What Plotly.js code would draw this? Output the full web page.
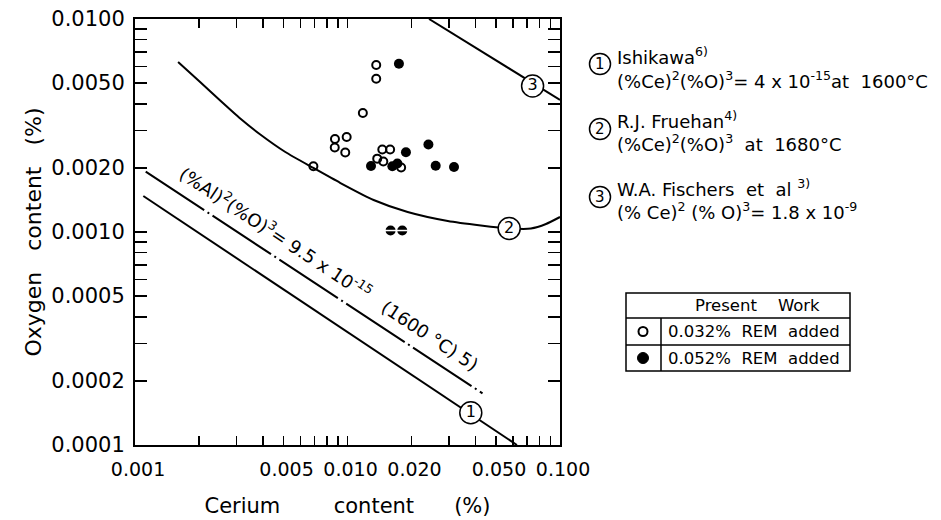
<!DOCTYPE html>
<html>
<head>
<meta charset="utf-8">
<script src="https://cdn.plot.ly/plotly-3.0.1.min.js"></script>
<style>
  html, body { margin: 0; padding: 0; background: #fff; }
  #chart { width: 941px; height: 520px; }
</style>
</head>
<body>
<div id="chart"></div>
<script>
// ---------- data ----------
// Present work, 0.032% REM added (open circles)
const ceOpen = [0.01365, 0.01365, 0.01181, 0.00873, 0.00991, 0.00871, 0.00976, 0.01458, 0.01587, 0.0138, 0.01474, 0.00691, 0.01788];
const oOpen  = [0.00608, 0.005244, 0.003619, 0.002733, 0.002793, 0.002493, 0.00236, 0.00244, 0.00244, 0.00221, 0.002143, 0.002037, 0.00201];
// Present work, 0.052% REM added (filled circles)
const ceFilled = [0.01746, 0.02403, 0.01884, 0.0129, 0.01626, 0.01717, 0.0260, 0.03171];
const oFilled  = [0.006167, 0.002576, 0.002366, 0.00204, 0.002037, 0.002097, 0.002046, 0.00202];
// half-filled points
const ceHalf = [0.01595, 0.0181];
const oHalf  = [0.001016, 0.001016];

// (1) Ishikawa line
const ceIshikawa = [0.001094, 0.0627];
const oIshikawa  = [0.001476, 0.0001];
// (2) Fruehan curve
const ceFruehan = [0.001595, 0.002025, 0.002517, 0.003128, 0.003887, 0.005099, 0.00691, 0.009268, 0.01327, 0.01919, 0.02964, 0.04241, 0.05874, 0.07298, 0.0859, 0.1];
const oFruehan  = [0.006282, 0.005061, 0.004143, 0.003411, 0.002869, 0.002374, 0.001998, 0.001698, 0.001413, 0.001241, 0.001126, 0.001073, 0.001038, 0.001038, 0.00109, 0.001176];
// (3) Fischers line
const ceFischers = [0.0242, 0.1];
const oFischers  = [0.0100, 0.00417];
// Al deoxidation line
const ceAl = [0.001123, 0.04319];
const oAl  = [0.001919, 0.0001749];

// circled curve numbers
const labelText = ['1', '2', '3'];
const labelCe = [0.03803, 0.05766, 0.0743];
const labelO  = [0.0001418, 0.001038, 0.004845];

// axis ticks
const xTickVals = [0.001, 0.005, 0.01, 0.02, 0.05, 0.1];
const xTickText = ['0.001', '0.005', '0.010', '0.020', '0.050', '0.100'];
const xMinorVals = [0.002,0.003,0.004,0.006,0.007,0.008,0.009,0.03,0.04,0.06,0.07,0.08,0.09];
const yTickVals = [0.0001, 0.0002, 0.0005, 0.001, 0.002, 0.005, 0.01];
const yTickText = ['0.0001', '0.0002', '0.0005', '0.0010', '0.0020', '0.0050', '0.0100'];
const yMinorVals = [0.0003,0.0004,0.0006,0.0007,0.0008,0.0009,0.003,0.004,0.006,0.007,0.008,0.009];

// ---------- drawing ----------
const FONT = 'DejaVu Sans, Verdana, sans-serif';
const NB = '\u00a0';
const sp = n => NB.repeat(n);

const line = {color: '#000', width: 2};
const traces = [
  {x: ceIshikawa, y: oIshikawa, mode: 'lines', line: line, hoverinfo: 'skip'},
  {x: ceFruehan, y: oFruehan, mode: 'lines', line: {color: '#000', width: 2, shape: 'spline', smoothing: 0.6}, hoverinfo: 'skip'},
  {x: ceFischers, y: oFischers, mode: 'lines', line: line, hoverinfo: 'skip'},
  {x: ceAl, y: oAl, mode: 'lines', line: {color: '#000', width: 2, dash: '70px,4px,2px,4px'}, hoverinfo: 'skip'},
  {x: ceOpen, y: oOpen, mode: 'markers', marker: {symbol: 'circle-open', size: 8, color: '#000', line: {width: 2, color: '#000'}}},
  {x: ceFilled, y: oFilled, mode: 'markers', marker: {symbol: 'circle', size: 10, color: '#000'}},
  {x: ceHalf, y: oHalf, mode: 'markers', marker: {symbol: 'circle', size: 10, color: '#000'}},
  {x: ceHalf, y: oHalf, mode: 'markers', marker: {symbol: 'line-ew', size: 8, color: '#fff', line: {width: 1.5, color: '#fff'}}},
  {x: labelCe, y: labelO, mode: 'markers+text', text: labelText, textposition: 'middle center',
   textfont: {family: FONT, size: 16, color: '#000'}, cliponaxis: false,
   marker: {symbol: 'circle', size: 22, color: '#fff', line: {width: 1.5, color: '#000'}}}
];

// pixel -> paper helpers for the side legend / table (plot: x 135..560, y 19..445)
const px = v => (v - 135) / 425;
const py = v => (445 - v) / 426;

const circ = (cx, cy, r, filled, w) => ({
  type: 'circle', xref: 'paper', yref: 'paper', xsizemode: 'pixel', ysizemode: 'pixel',
  xanchor: px(cx), yanchor: py(cy), x0: -r, x1: r, y0: -r, y1: r,
  line: {color: '#000', width: w}, fillcolor: filled ? '#000' : 'rgba(0,0,0,0)'
});
const seg = (x0, y0, x1, y1) => ({
  type: 'line', xref: 'paper', yref: 'paper', x0: px(x0), y0: py(y0), x1: px(x1), y1: py(y1),
  line: {color: '#000', width: 1.5}
});

const shapes = [
  circ(600, 64, 10.5, false, 1.5),
  circ(600, 129, 10.5, false, 1.5),
  circ(600, 197, 10.5, false, 1.5),
  // table
  {type: 'rect', xref: 'paper', yref: 'paper', x0: px(626), x1: px(850), y0: py(371), y1: py(293), line: {color: '#000', width: 1.5}},
  seg(626, 318, 850, 318),
  seg(626, 345, 850, 345),
  seg(661, 318, 661, 371),
  circ(643, 331.5, 4.5, false, 2),
  circ(643, 358, 5.5, true, 1)
];

const ann = (x, y, text, size, anchor) => ({
  xref: 'paper', yref: 'paper', x: px(x), y: py(y), text: text, showarrow: false,
  xanchor: anchor || 'left', yanchor: 'middle', font: {family: FONT, size: size || 18, color: '#000'}
});

const annotations = [
  ann(600, 64, '1', 15, 'center'),
  ann(600, 129, '2', 15, 'center'),
  ann(600, 197, '3', 15, 'center'),
  ann(615, 56, 'Ishikawa<sup>6)</sup>'),
  ann(615, 80, '(%Ce)<sup>2</sup>(%O)<sup>3</sup>= 4 x 10<sup>-15</sup>at' + sp(2) + '1600°C'),
  ann(615, 120, 'R.J. Fruehan<sup>4)</sup>'),
  ann(615, 143, '(%Ce)<sup>2</sup>(%O)<sup>3</sup>' + sp(2) + 'at' + sp(2) + '1680°C'),
  ann(615, 188, 'W.A. Fischers' + sp(2) + 'et' + sp(2) + 'al <sup>3)</sup>'),
  ann(615, 211, '(% Ce)<sup>2</sup> (% O)<sup>3</sup>= 1.8 x 10<sup>-9</sup>'),
  ann(757, 305.5, 'Present' + sp(4) + 'Work', 16.5, 'center'),
  ann(666, 331.5, '0.032%' + sp(2) + 'REM' + sp(2) + 'added', 16.5),
  ann(666, 358, '0.052%' + sp(2) + 'REM' + sp(2) + 'added', 16.5),
  // Al equilibrium label, along its line
  {xref: 'x', yref: 'y', x: Math.log10(0.0082), y: Math.log10(0.00068), showarrow: false,
   textangle: 33.4, xanchor: 'center', yanchor: 'middle',
   text: '(%Al)<sup>2</sup>(%O)<sup>3</sup>= 9.5 x 10<sup>-15</sup>' + sp(3) + '(1600 °C) 5)',
   font: {family: FONT, size: 18, color: '#000'}}
];

const axisCommon = {
  type: 'log', showline: true, mirror: 'ticks', linecolor: '#000', linewidth: 2,
  ticks: 'inside', tickcolor: '#000', tickwidth: 1.5, tickmode: 'array',
  showgrid: false, zeroline: false, tickangle: 0, fixedrange: true
};

const layout = {
  width: 941, height: 520,
  margin: {l: 135, r: 381, t: 19, b: 75},
  paper_bgcolor: '#fff', plot_bgcolor: '#fff',
  showlegend: false,
  font: {family: FONT, color: '#000'},
  xaxis: Object.assign({}, axisCommon, {
    range: [-3, -1], tickvals: xTickVals, ticktext: xTickText.map(t => NB + t), ticklen: 9, ticklabelstandoff: 6,
    tickfont: {family: FONT, size: 19, color: '#000'},
    minor: {tickmode: 'array', tickvals: xMinorVals, ticks: 'inside', ticklen: 9, tickwidth: 1.5, tickcolor: '#000', showgrid: false},
    title: {text: 'Cerium' + sp(8) + 'content' + sp(6) + '(%)' + sp(5), font: {family: FONT, size: 21, color: '#000'}, standoff: 20}
  }),
  yaxis: Object.assign({}, axisCommon, {
    range: [-4, -2], tickvals: yTickVals, ticktext: yTickText, ticklen: 12, ticklabelstandoff: 4,
    tickfont: {family: FONT, size: 21, color: '#000'},
    minor: {tickmode: 'array', tickvals: yMinorVals, ticks: 'inside', ticklen: 12, tickwidth: 1.5, tickcolor: '#000', showgrid: false},
    title: {text: 'Oxygen' + sp(3) + 'content' + sp(3) + '(%)' + sp(4), font: {family: FONT, size: 22, color: '#000'}, standoff: 4}
  }),
  shapes: shapes,
  annotations: annotations
};

Plotly.newPlot('chart', traces, layout, {staticPlot: true, displayModeBar: false});
</script>
</body>
</html>
